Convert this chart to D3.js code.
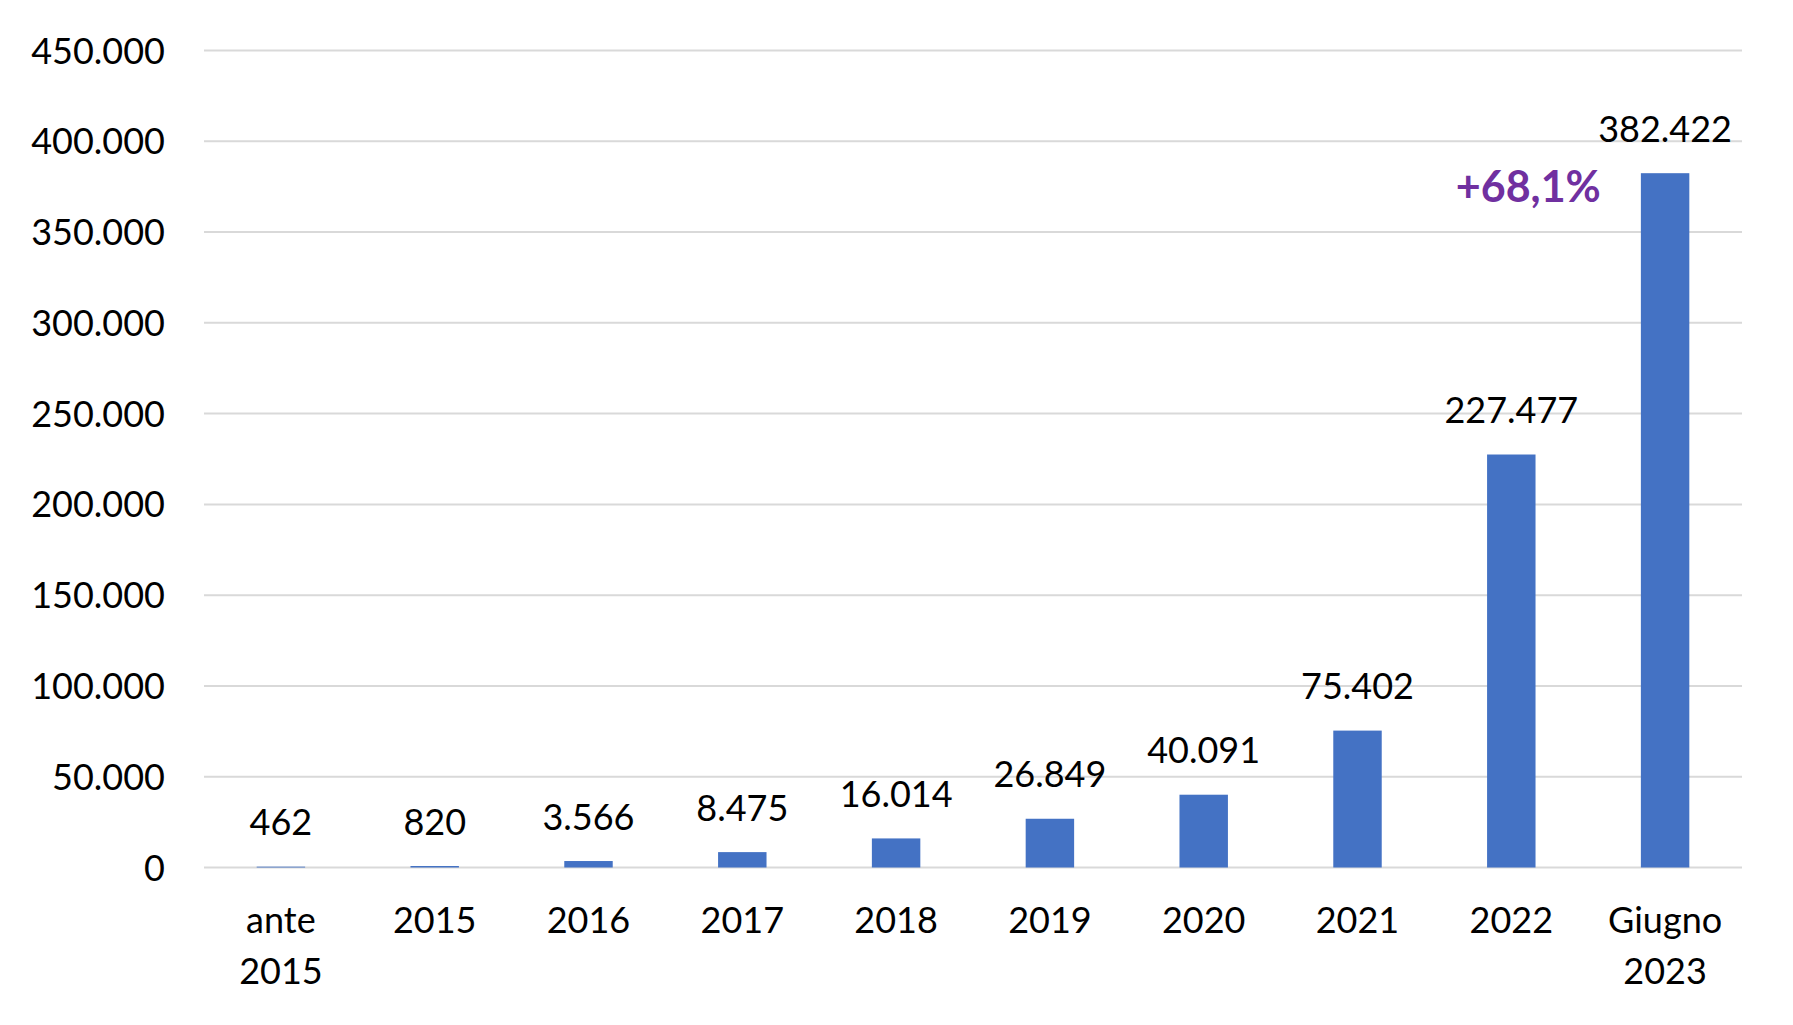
<!DOCTYPE html>
<html>
<head>
<meta charset="utf-8">
<script src="https://cdn.jsdelivr.net/npm/d3@7"></script>
<style>
  html, body { margin: 0; padding: 0; background: #fff; }
  svg { display: block; }
  text { font-family: Lato, "Open Sans", sans-serif; fill: #000; }
</style>
</head>
<body>
<svg id="chart" width="1793" height="1025"></svg>
<script>
const categories = ["ante 2015", "2015", "2016", "2017", "2018", "2019", "2020", "2021", "2022", "Giugno 2023"];
const categoryLines = [["ante", "2015"], ["2015"], ["2016"], ["2017"], ["2018"], ["2019"], ["2020"], ["2021"], ["2022"], ["Giugno", "2023"]];
const values = [462, 820, 3566, 8475, 16014, 26849, 40091, 75402, 227477, 382422];
const yTicks = [0, 50000, 100000, 150000, 200000, 250000, 300000, 350000, 400000, 450000];
const growthLabel = "+68,1%";

(function () {
const svg = d3.select("#chart");
const plotLeft = 204, plotRight = 1742, plotTop = 50.5, plotBottom = 867.5;

const fmt = v => d3.format(",")(v).replace(/,/g, ".");

const x = d3.scaleBand().domain(categories).range([plotLeft, plotRight]).paddingInner(0.685).paddingOuter(0.3425);
const y = d3.scaleLinear().domain([0, 450000]).range([plotBottom, plotTop]);

// gridlines
svg.append("g").selectAll("line").data(yTicks).join("line")
  .attr("x1", plotLeft).attr("x2", plotRight)
  .attr("y1", d => y(d)).attr("y2", d => y(d))
  .attr("stroke", "#d9d9d9").attr("stroke-width", 2);

// y axis labels
const yAxis = d3.axisLeft(y).tickValues(yTicks).tickFormat(fmt).tickSize(0).tickPadding(0);
const yg = svg.append("g").attr("transform", "translate(165,0)").call(yAxis);
yg.select(".domain").remove();
yg.selectAll("text").attr("font-size", 36).attr("font-family", "Lato, 'Open Sans', sans-serif").attr("fill", "#000").attr("dy", "0.35em");

// bars
svg.append("g").selectAll("rect").data(values).join("rect")
  .attr("x", (d, i) => x(categories[i]))
  .attr("width", x.bandwidth())
  .attr("y", d => y(d))
  .attr("height", d => plotBottom - y(d))
  .attr("fill", "#4472C4");

// value labels
svg.append("g").selectAll("text").data(values).join("text")
  .attr("x", (d, i) => x(categories[i]) + x.bandwidth() / 2)
  .attr("y", d => y(d) - 31.5)
  .attr("text-anchor", "middle")
  .attr("font-size", 36)
  .text(d => fmt(d));

// x axis labels
const xg = svg.append("g");
categories.forEach((c, i) => {
  const cx = x(c) + x.bandwidth() / 2;
  const t = xg.append("text")
    .attr("x", cx)
    .attr("y", 933)
    .attr("text-anchor", "middle")
    .attr("font-size", 36);
  categoryLines[i].forEach((line, j) => {
    t.append("tspan").attr("x", cx).attr("dy", j === 0 ? 0 : 50.5).text(line);
  });
});

// growth annotation
svg.append("text")
  .attr("x", x(categories[8]) + x.bandwidth() / 2 + 17)
  .attr("y", 201.5)
  .attr("text-anchor", "middle")
  .attr("font-size", 43)
  .attr("font-weight", "bold")
  .style("fill", "#7030A0")
  .text(growthLabel);
})();
</script>
</body>
</html>
